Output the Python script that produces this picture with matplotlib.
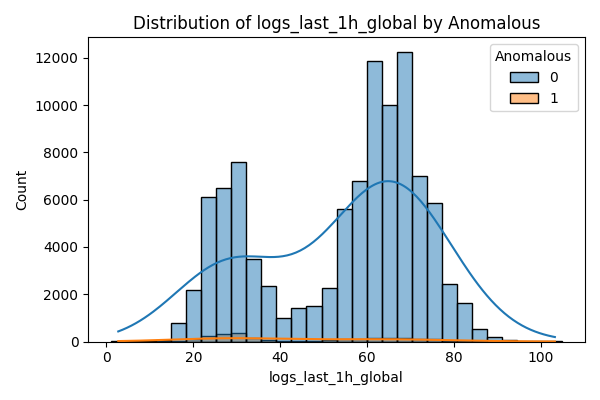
import numpy as np
import pandas as pd
import matplotlib
matplotlib.use("Agg")
import matplotlib.pyplot as plt
import seaborn as sns

# 30 bins from 1 to 105
bin_lo, bin_hi, n_bins = 1, 105, 30
counts_0 = [20, 10, 20, 50, 800, 2200, 6100, 6500, 7600, 3500,
            2350, 1000, 1400, 1500, 2250, 5600, 6800, 11850, 10000, 12250,
            7000, 5850, 2450, 1650, 550, 200, 60, 20, 10, 5]
counts_1 = [0, 0, 0, 5, 30, 100, 250, 300, 350, 150,
            80, 30, 40, 40, 60, 100, 120, 150, 140, 150,
            100, 90, 40, 30, 10, 3, 1, 0, 0, 0]

bin_edges = np.linspace(bin_lo, bin_hi, n_bins + 1)
centers = (bin_edges[:-1] + bin_edges[1:]) / 2
df = pd.DataFrame({
    "logs_last_1h_global": np.concatenate([centers, centers]),
    "weight": counts_0 + counts_1,
    "Anomalous": [0] * n_bins + [1] * n_bins,
})

fig, ax = plt.subplots(figsize=(6, 4), dpi=100)
sns.histplot(data=df, x="logs_last_1h_global", weights="weight", hue="Anomalous",
             bins=n_bins, binrange=(bin_lo, bin_hi), kde=True, ax=ax)
ax.set_title("Distribution of logs_last_1h_global by Anomalous")
ax.set_ylabel("Count")
plt.tight_layout()
plt.savefig("out.png")
